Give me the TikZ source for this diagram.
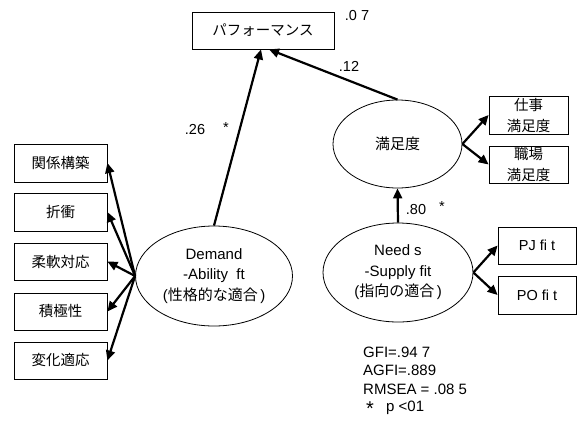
\documentclass[tikz,border=0pt]{standalone}
\usepackage{fontspec}
\setmainfont{Liberation Sans}
\newfontfamily\jp{Noto Sans CJK JP}
\usetikzlibrary{shapes.geometric,arrows.meta}
\begin{document}
\begin{tikzpicture}[x=1pt,y=-1pt,
  box/.style={draw,line width=0.8pt,inner sep=0pt,align=center,
    font=\jp\fontsize{14.5}{21}\selectfont},
  lat/.style={draw,ellipse,line width=0.8pt,inner sep=0pt,align=center,
    font=\fontsize{15}{20.5}\selectfont},
  arr/.style={line width=2.2pt,-{Triangle[length=10pt,width=9pt]}},
  lbl/.style={font=\fontsize{14.5}{17}\selectfont,inner sep=0pt},
  stat/.style={font=\fontsize{15}{17}\selectfont,inner sep=0pt,anchor=west}
]
\useasboundingbox (0,0) rectangle (577,421);

% observed boxes
\node[box,minimum width=142pt,minimum height=37pt] (perf) at (263,30.5) {パフォーマンス};
\node[box,minimum width=93pt,minimum height=38pt] (b1) at (60.5,163) {関係構築};
\node[box,minimum width=93pt,minimum height=38pt] (b2) at (60.5,212) {折衝};
\node[box,minimum width=93pt,minimum height=37pt] (b3) at (60.5,261.5) {柔軟対応};
\node[box,minimum width=93pt,minimum height=37pt] (b4) at (60.5,311.5) {積極性};
\node[box,minimum width=93pt,minimum height=37pt] (b5) at (60.5,360.5) {変化適応};
\node[box,minimum width=79pt,minimum height=38pt] (s1) at (528.5,115) {仕事\\満足度};
\node[box,minimum width=79pt,minimum height=37pt] (s2) at (528.5,164.5) {職場\\満足度};
\node[box,minimum width=78pt,minimum height=37pt,font=\fontsize{14.5}{17}\selectfont] (pj) at (537,245.5) {PJ fi t};
\node[box,minimum width=78pt,minimum height=38pt,font=\fontsize{14.5}{17}\selectfont] (po) at (537,295) {PO fi t};

% latent variables
\node[lat,minimum width=157pt,minimum height=100pt] (dem) at (214,276)
  {Demand\\-Ability\ \ ft\\({\jp 性格的な適合}\,)};
\node[lat,minimum width=129pt,minimum height=88pt,font=\jp\fontsize{15}{20}\selectfont] (sat) at (397.5,144) {満足度};
\node[lat,minimum width=150pt,minimum height=99pt] (need) at (398,272.5)
  {Need s\\-Supply fit\\({\jp 指向の適合}\,)};

% connectors
\coordinate (dl) at (dem.west);
\draw[arr] (dl) -- (b1.east);
\draw[arr] (dl) -- (b2.east);
\draw[arr] (dl) -- (b3.east);
\draw[arr] (dl) -- (b4.east);
\draw[arr] (dl) -- (b5.east);
\draw[arr] (dem.north) -- ([xshift=-2pt]perf.south);
\draw[arr] (sat.north) -- ([xshift=6pt]perf.south);
\draw[arr] (sat.east) -- (s1.west);
\draw[arr] (sat.east) -- (s2.west);
\draw[arr] (need.north) -- (sat.south);
\draw[arr] (need.east) -- (pj.west);
\draw[arr] (need.east) -- (po.west);

% labels
\node[lbl] (l07) at (357,16) {.0 7};
\node[lbl] (l12) at (349,66) {.12};
\node[lbl] (l26) at (195,130) {.26};
\node[lbl] (l26s) at (226,128) {*};
\node[lbl] (l80) at (416,210) {.80};
\node[lbl] (l80s) at (442,207) {*};

% fit statistics
\node[stat] (g1) at (363,352) {GFI=.94 7};
\node[stat] (g2) at (363,370.5) {AGFI=.889};
\node[stat] (g3) at (363,389) {RMSEA = .08 5};
\node[stat,font=\fontsize{20}{20}\selectfont] (g4s) at (366,409) {*};
\node[stat] (g4) at (386,408) {p <01};
\end{tikzpicture}
\end{document}
